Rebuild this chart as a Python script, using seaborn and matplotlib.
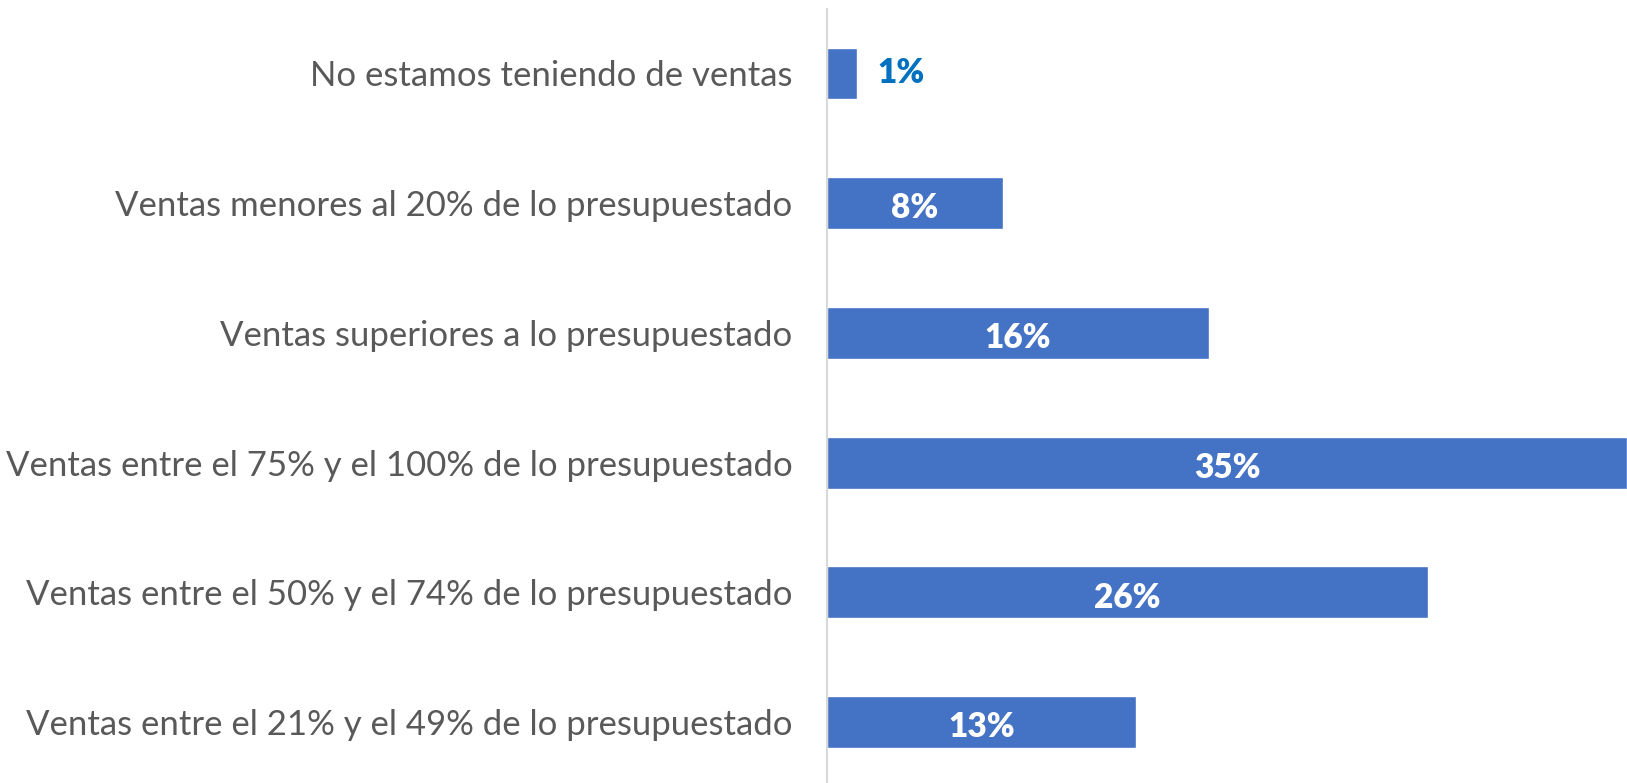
import matplotlib
matplotlib.use("Agg")
import matplotlib.pyplot as plt
import seaborn as sns
import pandas as pd

# data
categorias = [
    "No estamos teniendo de ventas",
    "Ventas menores al 20% de lo presupuestado",
    "Ventas superiores a lo presupuestado",
    "Ventas entre el 75% y el 100% de lo presupuestado",
    "Ventas entre el 50% y el 74% de lo presupuestado",
    "Ventas entre el 21% y el 49% de lo presupuestado",
]
valores = [1.3, 7.7, 16.7, 35.0, 26.3, 13.5]
etiquetas = ["1%", "8%", "16%", "35%", "26%", "13%"]

df = pd.DataFrame({"categoria": categorias, "valor": valores})

sns.set_style("white")
plt.rcParams["font.family"] = ["Lato", "DejaVu Sans"]

fig = plt.figure(figsize=(16.27, 7.83), dpi=100)
ax = fig.add_axes([827 / 1627, -0.005, 1 - 827 / 1627, 0.994])

sns.barplot(data=df, x="valor", y="categoria", color="#4472C4",
            saturation=1, width=0.4, ax=ax)

ax.set_xlim(0, 35.0)
ax.set_ylim(5.5, -0.5)
ax.set_xlabel("")
ax.set_ylabel("")
ax.set_xticks([])
ax.tick_params(axis="y", length=0, pad=25, labelsize=25, labelcolor="#595959")

for s in ["top", "right", "bottom"]:
    ax.spines[s].set_visible(False)
ax.spines["left"].set_color("#D9D9D9")
ax.spines["left"].set_linewidth(1.5)

# value labels
for i, (v, t) in enumerate(zip(valores, etiquetas)):
    if v < 3:
        ax.text(v + 0.9, i, t, ha="left", va="center", fontsize=24,
                fontweight="heavy", color="#0070C0")
    else:
        ax.text(v / 2, i + 0.04, t, ha="center", va="center", fontsize=24,
                fontweight="heavy", color="white")

fig.savefig("out.png", dpi=100)
